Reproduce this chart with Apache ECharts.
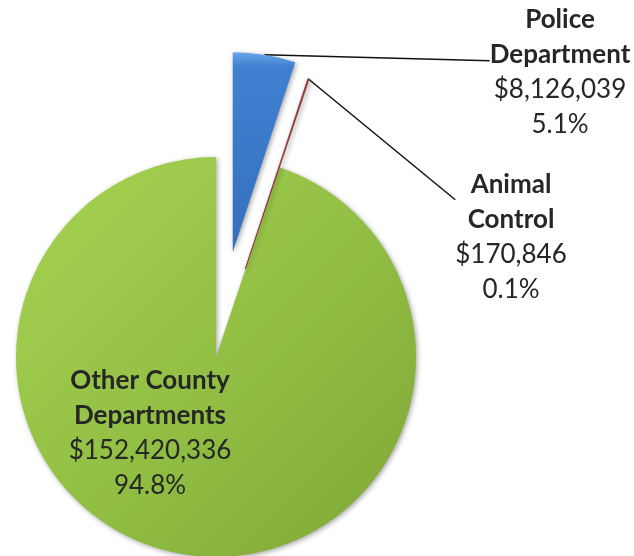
<!DOCTYPE html>
<html><head><meta charset="utf-8">
<script src="https://cdn.jsdelivr.net/npm/echarts@6/dist/echarts.min.js"></script>
<style>html,body{margin:0;padding:0;background:#fff}#c{width:634px;height:556px}</style>
</head><body><div id="c"></div>
<script>
// ---- data ----
const names = ['Police Department', 'Animal Control', 'Other County Departments'];
const amounts = [8126039, 170846, 152420336];

// ---- styles / layout ----
const G = echarts.graphic.LinearGradient;
const fills = [
  new G(0, 0, 0, 1, [{offset: 0, color: '#6AA6EA'}, {offset: 0.07, color: '#3F81D1'}, {offset: 1, color: '#3470BE'}]),
  new G(0, 0, 1, 1, [{offset: 0, color: '#A54340'}, {offset: 1, color: '#7E2C2A'}]),
  new G(0, 0, 1, 1, [{offset: 0, color: '#A8D354'}, {offset: 0.5, color: '#92C044'}, {offset: 1, color: '#7FA636'}])
];
const borders = [null, {borderColor: '#8E3533', borderWidth: 0.8}, null];
const explodeBy = [106, 93, 0];          // px each slice is pulled out
const baseCenter = [216, 357];
const pieRadius = 200;
const labelAnchor = [[560, 63], [511, 202], [150, 433]];
const labelSpacer = [18, 70, 0];         // blank space above label text (moves leader-line end up)
const FONT = 'Lato';
const TXT = '#262626';

const total = amounts.reduce((a, b) => a + b, 0);
let cum = 0;
const midAngles = amounts.map(v => { const m = (cum + v / 2) / total * 2 * Math.PI; cum += v; return m; });

const labelFormatter = function (p) {
  const k = p.name.lastIndexOf(' ');
  const sp = labelSpacer[p.dataIndex] > 0 ? '{s| }\n' : '';
  return sp + '{b|' + p.name.slice(0, k) + '}\n{b|' + p.name.slice(k + 1) + '}\n{v|$' +
    p.value.toLocaleString('en-US') + '}\n{v|' + p.percent.toFixed(1) + '%}';
};
const makeRich = i => ({
  s: {fontSize: 2, lineHeight: labelSpacer[i] || 1, height: labelSpacer[i] || 1},
  b: {fontFamily: FONT, fontWeight: 'bold', fontSize: 26, lineHeight: 35, color: TXT, align: 'center'},
  v: {fontFamily: FONT, fontSize: 26, lineHeight: 35, color: TXT, align: 'center'}
});
const hidden = 'rgba(0,0,0,0)';

// one pie layer per slice, so each slice can be pulled out on its own
const series = names.map((_, s) => ({
  type: 'pie',
  z: s === 2 ? 1 : 2,
  center: [baseCenter[0] + explodeBy[s] * Math.sin(midAngles[s]),
           baseCenter[1] - explodeBy[s] * Math.cos(midAngles[s])],
  radius: [0, pieRadius],
  startAngle: 90,
  clockwise: true,
  avoidLabelOverlap: false,
  percentPrecision: 1,
  emphasis: {disabled: true},
  label: {show: false},
  labelLine: {show: false},
  data: names.map((n, i) => {
    const on = i === s;
    return {
      name: n,
      value: amounts[i],
      itemStyle: on
        ? Object.assign({color: fills[i], shadowBlur: 5, shadowColor: 'rgba(0,0,0,0.35)', shadowOffsetX: 1.5, shadowOffsetY: 1.5}, borders[i] || {})
        : {color: hidden, borderWidth: 0},
      label: on ? {
        show: true,
        position: 'outside',
        alignTo: 'none',
        formatter: labelFormatter,
        rich: makeRich(i)
      } : {show: false},
      labelLine: on && i < 2 ? {
        show: true, length: 10, length2: 0, smooth: false,
        lineStyle: {color: '#111', width: 1.5}
      } : {show: false}
    };
  }),
  labelLayout: function (params) {
    const a = labelAnchor[params.dataIndex];
    return {x: a[0], y: a[1], align: 'center', verticalAlign: 'middle'};
  }
}));

const chart = echarts.init(document.getElementById('c'), null, {renderer: 'canvas'});
chart.setOption({animation: false, backgroundColor: '#fff', series: series});
</script>
</body></html>
